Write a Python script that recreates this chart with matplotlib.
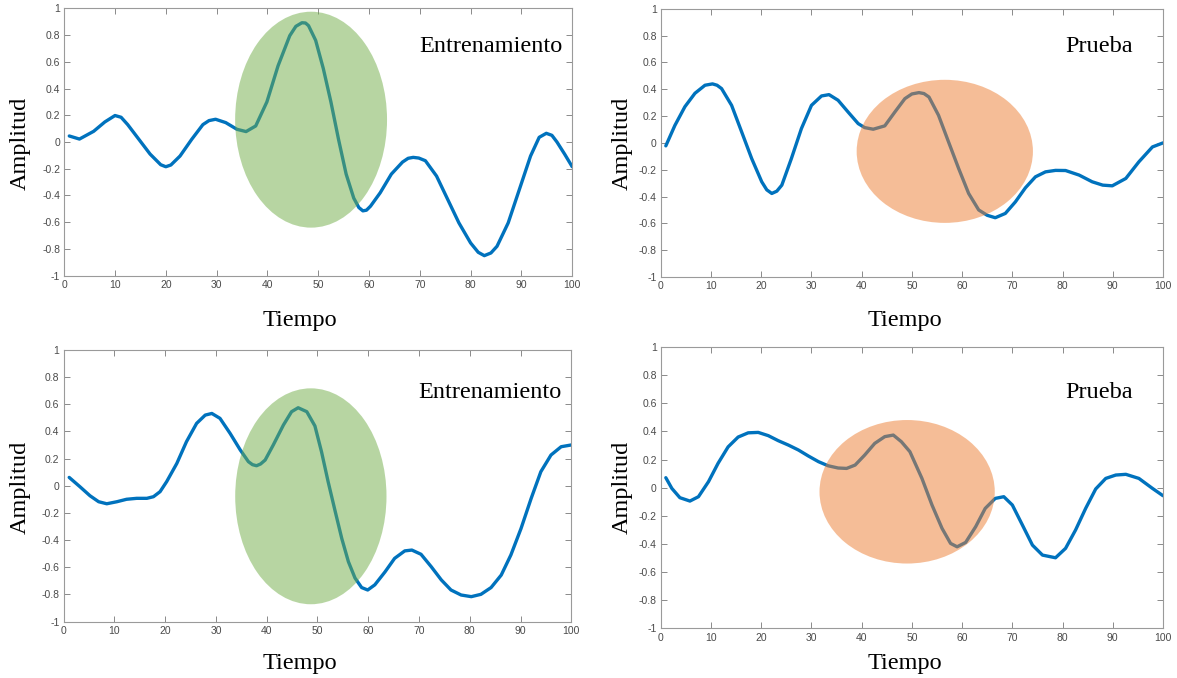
import matplotlib
matplotlib.use("Agg")
import matplotlib.pyplot as plt
from matplotlib.patches import Ellipse

plt.rcParams['font.family'] = ['Liberation Sans', 'DejaVu Sans']
plt.rcParams['axes.unicode_minus'] = False

# ---------------- data ----------------
x_tl = [1, 3, 5.8, 8, 10, 11.2, 12.5, 14.7, 16.9, 19, 20, 21, 22.8, 25.1, 27.3, 28.5,
        29.8, 31.8, 34, 35.8, 37.7, 39.9, 42.1, 44.4, 45.6, 46.8, 47.5, 48.1, 49.5, 51,
        52.5, 54, 55.5, 57, 58, 58.8, 59.5, 60.3, 62.2, 64.4, 66.6, 67.7, 68.7, 69.8, 71.1,
        73.3, 75.5, 77.7, 80, 81.5, 82.7, 84, 85.2, 87.4, 89.6, 91.8, 93.5, 94.9, 96, 97,
        98.5, 100]
y_tl = [0.045, 0.022, 0.08, 0.15, 0.198, 0.185, 0.13, 0.02, -0.09, -0.17, -0.185, -0.172,
        -0.105, 0.02, 0.13, 0.16, 0.17, 0.145, 0.095, 0.078, 0.12, 0.30, 0.57, 0.795, 0.865,
        0.892, 0.89, 0.87, 0.76, 0.55, 0.3, 0.02, -0.24, -0.42, -0.49, -0.515, -0.51, -0.48,
        -0.38, -0.24, -0.15, -0.122, -0.115, -0.12, -0.14, -0.255, -0.43, -0.605, -0.755,
        -0.825, -0.85, -0.83, -0.78, -0.605, -0.355, -0.105, 0.035, 0.065, 0.05, 0.0,
        -0.09, -0.185]

x_tr = [1, 2.8, 4.8, 6.8, 8.8, 10.3, 11.2, 12.1, 14.1, 16.1, 18.1, 20.1, 21.1, 22.1, 23.1,
        24.1, 26, 28, 30, 32, 33.5, 35.3, 37.3, 39.3, 40.6, 42.3, 44.6, 46.6, 48.6, 50,
        51.4, 52.4, 53.4, 55.3, 57.3, 59.3, 61.3, 63.3, 65, 66.6, 68.6, 70.6, 72.6, 74.6,
        76.6, 78.6, 80.6, 83.3, 85.9, 88, 89.9, 92.6, 95.2, 97.9, 100]
y_tr = [-0.022, 0.13, 0.27, 0.37, 0.43, 0.44, 0.43, 0.405, 0.28, 0.082, -0.117, -0.29,
        -0.35, -0.377, -0.36, -0.315, -0.117, 0.107, 0.28, 0.35, 0.36, 0.318, 0.23, 0.144,
        0.114, 0.102, 0.127, 0.23, 0.33, 0.365, 0.375, 0.368, 0.342, 0.206, 0.007, -0.19,
        -0.377, -0.5, -0.54, -0.558, -0.526, -0.44, -0.335, -0.253, -0.216, -0.205, -0.206,
        -0.24, -0.29, -0.315, -0.32, -0.265, -0.141, -0.03, 0.0]

x_bl = [1.1, 3.2, 5.2, 6.9, 8.5, 10.5, 12.4, 14.4, 16.4, 17.7, 19, 20.3, 22.3, 24.2, 26.2,
        27.9, 29.2, 30.8, 32.8, 34.8, 36.4, 37.2, 38, 38.8, 39.7, 41.3, 43.3, 44.9, 46.2,
        47.9, 49.5, 50.8, 52.1, 53.5, 54.8, 56.1, 57.4, 58.7, 59.9, 61.3, 63.3, 65.2, 67.2,
        68.6, 70.4, 72.4, 74.4, 76.3, 78.3, 80.3, 82.2, 84.2, 86.2, 88.1, 90.1, 92.1, 94,
        96, 98, 100]
y_bl = [0.061, -0.007, -0.074, -0.118, -0.133, -0.118, -0.1, -0.093, -0.093, -0.081,
        -0.044, 0.03, 0.164, 0.324, 0.459, 0.52, 0.532, 0.496, 0.385, 0.263, 0.177, 0.155,
        0.147, 0.16, 0.189, 0.3, 0.447, 0.545, 0.574, 0.545, 0.44, 0.25, 0.03, -0.19, -0.39,
        -0.56, -0.68, -0.75, -0.768, -0.73, -0.635, -0.535, -0.48, -0.474, -0.505, -0.596,
        -0.694, -0.768, -0.805, -0.817, -0.8, -0.75, -0.658, -0.51, -0.315, -0.093, 0.103,
        0.226, 0.287, 0.3]

x_br = [1, 2.2, 3.8, 5.8, 7.5, 9.5, 11.4, 13.4, 15.4, 17.4, 19.4, 21.4, 23.4, 25.4, 27.4,
        29.4, 31.4, 33.3, 35.3, 37, 38.7, 40.6, 42.6, 44.6, 46.3, 47.9, 49.6, 52, 54, 56,
        57.7, 59, 60.7, 62.7, 64.6, 66.6, 68.3, 70, 72, 74, 76, 78.6, 80.6, 82.6, 84.6,
        86.6, 88.6, 90.6, 92.6, 95.2, 97.9, 100]
y_br = [0.071, -0.005, -0.071, -0.095, -0.064, 0.043, 0.173, 0.29, 0.36, 0.39, 0.393, 0.37,
        0.334, 0.303, 0.268, 0.225, 0.185, 0.156, 0.14, 0.137, 0.161, 0.232, 0.315, 0.363,
        0.374, 0.327, 0.256, 0.066, -0.123, -0.289, -0.396, -0.42, -0.389, -0.277, -0.147,
        -0.076, -0.064, -0.123, -0.265, -0.408, -0.479, -0.498, -0.431, -0.3, -0.147,
        -0.009, 0.066, 0.09, 0.095, 0.066, -0.005, -0.057]

x_ticks = [0, 10, 20, 30, 40, 50, 60, 70, 80, 90, 100]
y_ticks = [-1, -0.8, -0.6, -0.4, -0.2, 0, 0.2, 0.4, 0.6, 0.8, 1]
y_ticklabels = ['-1', '-0.8', '-0.6', '-0.4', '-0.2', '0', '0.2', '0.4', '0.6', '0.8', '1']
panel_titles = ['Entrenamiento', 'Prueba', 'Entrenamiento', 'Prueba']
x_label = 'Tiempo'
y_label = 'Amplitud'

# ---------------- drawing ----------------
W, H = 1177, 678
fig = plt.figure(figsize=(W / 100, H / 100), dpi=100)
fig.patch.set_facecolor('white')

LINE = '#0072BD'
GREEN = '#70AD47'
ORANGE = '#ED7D31'

def px_axes(left, right, top, bottom):
    return [left / W, 1 - bottom / H, (right - left) / W, (bottom - top) / H]

panels = [
    dict(rect=px_axes(64.2, 572.2, 8.3, 275.7), x=x_tl, y=y_tl,
         ell=((48.6, 0.167), 29.9, 1.615, GREEN), txt=(98, 0.673),
         xlab=(300, 326), ylab=(20, 143)),
    dict(rect=px_axes(660.8, 1163.0, 8.8, 277.0), x=x_tr, y=y_tr,
         ell=((56.55, -0.063), 35.1, 1.067, ORANGE), txt=(94, 0.678),
         xlab=(905, 326), ylab=(622, 143)),
    dict(rect=px_axes(63.6, 571.3, 349.9, 621.5), x=x_bl, y=y_bl,
         ell=((48.7, -0.078), 29.8, 1.59, GREEN), txt=(98, 0.644),
         xlab=(300, 669), ylab=(20, 487)),
    dict(rect=px_axes(660.8, 1163.0, 347.0, 628.4), x=x_br, y=y_br,
         ell=((49.05, -0.029), 34.9, 1.02, ORANGE), txt=(94, 0.635),
         xlab=(905, 669), ylab=(622, 487)),
]

serif = ['Liberation Serif', 'DejaVu Serif']

for p, title in zip(panels, panel_titles):
    ax = fig.add_axes(p['rect'])
    ax.plot(p['x'], p['y'], color=LINE, lw=2.4, solid_capstyle='round',
            solid_joinstyle='round', zorder=2)
    (cx, cy), ew, eh, ec = p['ell']
    ax.add_patch(Ellipse((cx, cy), ew, eh, facecolor=ec, edgecolor='none',
                         alpha=0.5, zorder=3))
    ax.set_xlim(0, 100)
    ax.set_ylim(-1, 1)
    ax.set_xticks(x_ticks)
    ax.set_xticklabels([str(v) for v in x_ticks])
    ax.set_yticks(y_ticks)
    ax.set_yticklabels(y_ticklabels)
    ax.tick_params(direction='in', length=4, width=0.7, color='#8a8a8a',
                   labelsize=7.5, labelcolor='#4a4a4a', pad=3,
                   top=True, right=True)
    for s in ax.spines.values():
        s.set_color('#9a9a9a')
        s.set_linewidth(0.8)
    ax.text(p['txt'][0], p['txt'][1], title, ha='right', va='baseline',
            fontsize=17.5, family=serif, color='black', zorder=5)
    fig.text(p['xlab'][0] / W, 1 - p['xlab'][1] / H, x_label, ha='center',
             va='baseline', fontsize=17.5, family=serif)
    fig.text(p['ylab'][0] / W, 1 - p['ylab'][1] / H, y_label, ha='center',
             va='center', rotation=90, fontsize=17.5, family=serif)

fig.savefig('out.png', dpi=100, facecolor='white')
